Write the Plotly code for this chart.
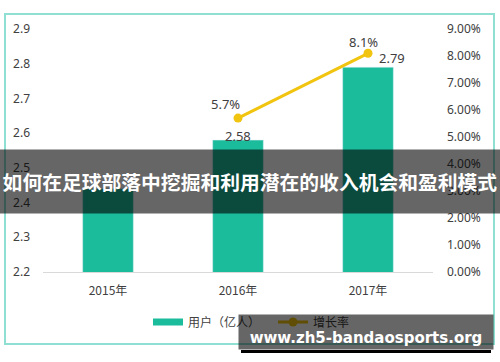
import plotly.graph_objects as go

years = ["2015年", "2016年", "2017年"]
users = [2.44, 2.58, 2.79]
growth = [None, 0.057, 0.081]
user_labels = ["", "2.58", "2.79"]
growth_labels = ["", "5.7%", "8.1%"]
left_ticks = [2.2, 2.3, 2.4, 2.5, 2.6, 2.7, 2.8, 2.9]
right_ticks = [i / 100 for i in range(0, 10)]

TEAL = "#1ABC9C"
GOLD = "#F1C40F"
TXT = "#404040"
FONT = "Noto Sans, Noto Sans CJK SC, sans-serif"
CJK = "Noto Sans CJK SC, Noto Sans, sans-serif"

W, H = 500, 362
L, R, T, B = 43, 67, 29, 90
PW, PH = W - L - R, H - T - B


def px(x):
    return (x - L) / PW


def py(y):
    return (H - B - y) / PH


fig = go.Figure()
fig.add_trace(go.Bar(x=years, y=users, marker_color=TEAL, width=0.39,
                     showlegend=False, yaxis="y"))
fig.add_trace(go.Scatter(x=[None], y=[None], mode="lines", name="用户（亿人）",
                         line=dict(color=TEAL, width=7)))
fig.add_trace(go.Scatter(x=years, y=growth, mode="lines+markers", name="增长率",
                         yaxis="y2", line=dict(color=GOLD, width=3),
                         marker=dict(color=GOLD, size=9)))

ann = []
offs_u = {1: (0, 4), 2: (24, 9)}
for i, (yv, lab) in enumerate(zip(users, user_labels)):
    if lab:
        dx, dy = offs_u[i]
        ann.append(dict(x=years[i], y=yv, xref="x", yref="y", text=lab, showarrow=False,
                        xshift=dx, yshift=dy, font=dict(size=13, color=TXT, family=FONT)))
offs_g = {1: (-13, 14), 2: (-5, 11)}
for i, (gv, lab) in enumerate(zip(growth, growth_labels)):
    if lab:
        dx, dy = offs_g[i]
        ann.append(dict(x=years[i], y=gv, xref="x", yref="y2", text=lab, showarrow=False,
                        xshift=dx, yshift=dy, font=dict(size=13, color=TXT, family=FONT)))

# banner overlay
ann.append(dict(xref="paper", yref="paper", x=px(250), y=py(181.5), xanchor="center",
                yanchor="middle", showarrow=False, width=500, height=63, borderpad=0,
                bgcolor="rgba(0,0,0,0.6)",
                text="<b>如何在足球部落中挖掘和利用潜在的收入机会和盈利模式</b>",
                font=dict(size=19.8, color="white", family=CJK)))
# watermark overlay
ann.append(dict(xref="paper", yref="paper", x=px(366), y=py(332), xanchor="center",
                yanchor="middle", showarrow=False, width=250, height=30, borderpad=2,
                valign="bottom", bgcolor="rgba(0,0,0,0.6)",
                text="<b>www.zh5-bandaosports.org</b>",
                font=dict(size=15, color="white", family="DejaVu Sans, sans-serif")))

shapes = [
    dict(type="rect", xref="paper", yref="paper", x0=px(5), x1=px(494), y0=py(344), y1=py(14),
         line=dict(color="#8FDFD2", width=2), fillcolor="rgba(0,0,0,0)", layer="below"),
    dict(type="rect", xref="paper", yref="paper", x0=px(241), x1=px(491), y0=py(353), y1=py(350),
         line=dict(width=0), fillcolor="black", layer="above"),
]

fig.update_layout(
    width=W, height=H, margin=dict(l=L, r=R, t=T, b=B, autoexpand=False),
    paper_bgcolor="white", plot_bgcolor="white",
    font=dict(family=FONT, color=TXT, size=12),
    xaxis=dict(showgrid=False, showline=True, linecolor="#D9D9D9", linewidth=1,
               automargin=False,
               tickfont=dict(size=12, color=TXT, family=CJK), ticklabelstandoff=8),
    yaxis=dict(range=[2.2, 2.9], tickvals=left_ticks, tickformat=".1f", showgrid=False,
               automargin=False,
               zeroline=False, showline=False, ticklabelstandoff=12,
               tickfont=dict(size=12, color=TXT)),
    yaxis2=dict(range=[0, 0.09], tickvals=right_ticks, tickformat=".2%", overlaying="y",
                side="right", showgrid=False, zeroline=False, showline=False,
                automargin=False,
                ticklabelstandoff=13, tickfont=dict(size=12, color=TXT)),
    legend=dict(orientation="h", xref="container", yref="container", x=148 / W,
                xanchor="left", y=1 - 322 / H, yanchor="middle", entrywidth=80,
                font=dict(size=12, color=TXT, family=CJK), bgcolor="rgba(0,0,0,0)"),
    annotations=ann, shapes=shapes,
)

fig.write_html("out.html", config={"displayModeBar": False},
               post_script="document.body.style.margin='0';")
